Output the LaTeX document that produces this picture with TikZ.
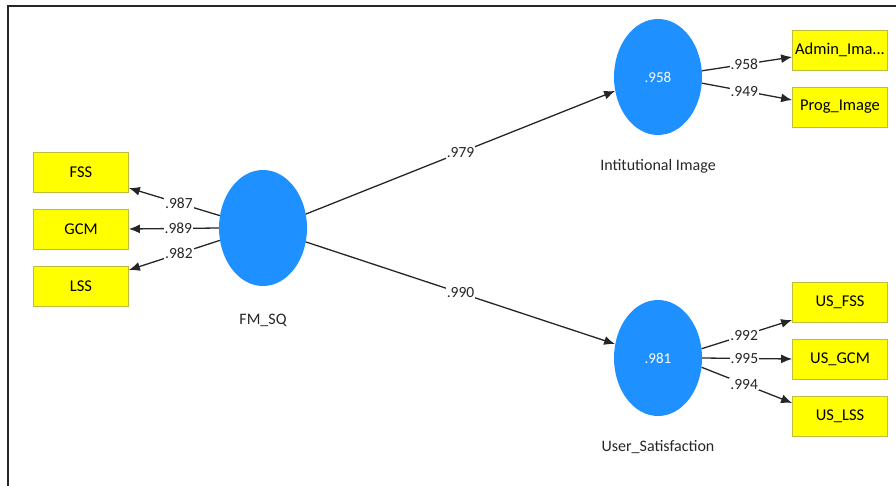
\documentclass[tikz,border=0pt]{standalone}
\usepackage{fontspec}
\setmainfont{Carlito}
\usetikzlibrary{arrows.meta,shapes.geometric}
\definecolor{lvblue}{RGB}{30,144,255}
\definecolor{indyellow}{RGB}{255,255,0}
\definecolor{indborder}{RGB}{190,190,60}
\tikzset{
  lv/.style={ellipse, fill=lvblue, minimum width=88pt, minimum height=116pt, inner sep=0pt, text=white, font=\fontsize{15}{17}\selectfont},
  ind/.style={rectangle, fill=indyellow, draw=indborder, line width=0.8pt, minimum width=95pt, minimum height=40pt, inner sep=0pt, font=\fontsize{16.5}{18}\selectfont},
  lvname/.style={font=\fontsize{16}{18}\selectfont, text=black!85},
  conn/.style={line width=1.3pt, draw=black!85, -{Latex[length=11pt,width=9pt]}},
  wt/.style={fill=white, inner sep=1pt, font=\fontsize{15.5}{17}\selectfont, text=black!85},
}
\begin{document}
\begin{tikzpicture}[x=1pt,y=-1pt]
\useasboundingbox (0,0) rectangle (896,486);
\coordinate (fl) at (8,486);
\coordinate (ft) at (8,6);
\coordinate (fr) at (896,6);
\draw[line width=2pt, black!85] (fl) -- (ft) -- (fr);

% latent variables
\node[lv] (fm) at (263,228) {};
\node[lv] (ii) at (658,77) {.958};
\node[lv] (us) at (658,358) {.981};
\node[lvname] (fmn) at (263,320) {FM\_SQ};
\node[lvname] (iin) at (658,166) {Intitutional Image};
\node[lvname] (usn) at (658,447) {User\_Satisfaction};

% indicators
\node[ind] (fss) at (81,172) {FSS};
\node[ind] (gcm) at (81,229) {GCM};
\node[ind] (lss) at (81,286) {LSS};
\node[ind] (adm) at (840,50) {Admin\_Ima...};
\node[ind] (prog) at (840,107) {Prog\_Image};
\node[ind] (usf) at (840,302) {US\_FSS};
\node[ind] (usg) at (840,359) {US\_GCM};
\node[ind] (usl) at (840,416) {US\_LSS};

% structural paths
\draw[conn] (fm.18) -- node[wt, pos=0.5] {.979} (ii.198);
\draw[conn] (fm.-18) -- node[wt, pos=0.5] {.990} (us.162);

% outer loadings FM_SQ
\draw[conn] (fm.164) -- node[wt, pos=0.45] {.987} (fss.east |- 0,188);
\draw[conn] (fm.180) -- node[wt, pos=0.45] {.989} (gcm.east);
\draw[conn] (fm.196) -- node[wt, pos=0.45] {.982} (lss.east |- 0,270);

% outer loadings Institutional Image
\draw[conn] (ii.8) -- node[wt, pos=0.47] {.958} (adm.west |- 0,57);
\draw[conn] (ii.-8) -- node[wt, pos=0.47] {.949} (prog.west |- 0,100);

% outer loadings User Satisfaction
\draw[conn] (us.12) -- node[wt, pos=0.47] {.992} (usf.west |- 0,320);
\draw[conn] (us.0) -- node[wt, pos=0.47] {.995} (usg.west);
\draw[conn] (us.-12) -- node[wt, pos=0.47] {.994} (usl.west |- 0,403);
\end{tikzpicture}
\end{document}
